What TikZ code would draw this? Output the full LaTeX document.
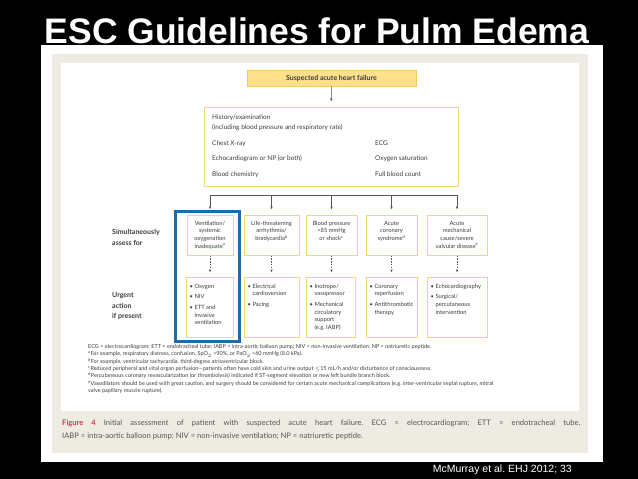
\documentclass[tikz,border=0pt]{standalone}
\usepackage{fontspec}
\setmainfont{Lato}
\newfontfamily\slidefont{Liberation Sans}
\usetikzlibrary{arrows.meta,positioning,calc}
\frenchspacing
\definecolor{slideblack}{HTML}{000000}
\definecolor{panelbeige}{HTML}{EEECE2}
\definecolor{boxyellow}{HTML}{F2D675}
\definecolor{headyellow}{HTML}{FCE08C}
\definecolor{textgray}{HTML}{3C3C3C}
\definecolor{linkgray}{HTML}{555555}
\definecolor{markblue}{HTML}{1D6CA8}
\definecolor{figred}{HTML}{D8345F}
\definecolor{capgray}{HTML}{555555}
\tikzset{
  >=Latex,
  slidetitle/.style={font=\slidefont\bfseries\fontsize{35.5}{40}\selectfont, text=white, anchor=base, inner sep=0pt},
  credit/.style={font=\slidefont\fontsize{10.5}{12}\selectfont, text=white, anchor=base east, inner sep=0pt},
  flowbox/.style={rectangle, draw=boxyellow, line width=1pt, fill=white, inner sep=0pt},
  headbox/.style={rectangle, draw=boxyellow!85!orange, fill=headyellow, line width=0.6pt,
    minimum width=169, minimum height=16, font=\fontsize{7}{8}\selectfont\bfseries, text=textgray},
  assess/.style={flowbox, minimum height=40},
  urgent/.style={flowbox, minimum height=60},
  histtext/.style={font=\fontsize{6.5}{8}\selectfont, text=textgray, anchor=base west, inner sep=0pt},
  boxtext/.style={font=\fontsize{5.8}{7.7}\selectfont, text=textgray, inner sep=0pt},
  sidelabel/.style={font=\fontsize{7}{10.5}\selectfont\bfseries, text=textgray, align=left,
    anchor=north west, inner sep=0pt},
  footnotes/.style={font=\fontsize{5.5}{7.4}\selectfont, text=textgray, align=left,
    anchor=north west, inner sep=0pt},
  caption/.style={font=\fontsize{7.6}{12.5}\selectfont, text=capgray, text width=518, align=justify,
    anchor=north west, inner sep=0pt},
  link/.style={draw=linkgray, line width=0.6pt},
  linkarrow/.style={link, -{Latex[length=3pt,width=2.6pt]}, shorten >=5pt},
  dasharrow/.style={link, -{Latex[length=3pt,width=2.6pt]}, dash pattern=on 1.4pt off 1.4pt, shorten >=4pt}
}
\newcommand{\itembul}{\textbullet\ }
\newcommand{\itempad}{\hphantom{\textbullet\ }}
\newcommand{\assesstext}[3]{
  \node[boxtext, align=center, anchor=north] (#1) at ([yshift=-6.3pt]#2.north) {#3};
}
\newcommand{\actiontext}[3]{
  \node[boxtext, align=left, anchor=north west] (#1) at ([xshift=4pt,yshift=-7.2pt]#2.north west) {#3};
}
\begin{document}
\begin{tikzpicture}[x=1pt, y=-1pt]
\useasboundingbox (0,0) rectangle (638,479);
\fill[slideblack] (0,0) rectangle (638,479);
\node[slidetitle] (title) at (317,43) {ESC Guidelines for Pulm Edema};
% figure panel
\fill[white] (41,45) rectangle (603,462);
\fill[panelbeige] (52,54) rectangle (588,453);
\fill[white] (61,63) rectangle (579,411);
% top of the chart
\node[headbox] (suspect) at (331.5,78) {Suspected acute heart failure};
\node[flowbox, minimum width=254, minimum height=79] (hist) at (331,146.5) {};
\draw[linkarrow] (suspect) -- (hist);
\node[histtext] (hist1) at (212,119.5) {History/examination};
\node[histtext] (hist2) at (212,129.5) {(including blood pressure and respiratory rate)};
\node[histtext] (hist3) at (212,145) {Chest X-ray};
\node[histtext] (hist4) at (375,145) {ECG};
\node[histtext] (hist5) at (212,160.5) {Echocardiogram or NP (or both)};
\node[histtext] (hist6) at (375,160.5) {Oxygen saturation};
\node[histtext] (hist7) at (212,176) {Blood chemistry};
\node[histtext] (hist8) at (375,176) {Full blood count};
% assessment row
\node[assess, minimum width=46] (as1) at (210,235) {};
\node[assess, minimum width=55] (as2) at (271.5,235) {};
\node[assess, minimum width=51] (as3) at (331.5,235) {};
\node[assess, minimum width=51] (as4) at (391.5,235) {};
\node[assess, minimum width=60] (as5) at (457,235) {};
\assesstext{as1t}{as1}{Ventilation/\\systemic\\oxygenation\\inadequate\textsuperscript{a}}
\assesstext{as2t}{as2}{Life-threatening\\arrhythmia/\\bradycardia\textsuperscript{b}}
\assesstext{as3t}{as3}{Blood pressure\\<85 mmHg\\or shock\textsuperscript{c}}
\assesstext{as4t}{as4}{Acute\\coronary\\syndrome\textsuperscript{d}}
\assesstext{as5t}{as5}{Acute\\mechanical\\cause/severe\\valvular disease\textsuperscript{e}}
% urgent action row
\node[urgent, minimum width=47] (ur1) at (209.5,307) {};
\node[urgent, minimum width=55] (ur2) at (271.5,307) {};
\node[urgent, minimum width=49] (ur3) at (330.5,307) {};
\node[urgent, minimum width=51] (ur4) at (391.5,307) {};
\node[urgent, minimum width=60] (ur5) at (457,307) {};
\actiontext{ur1t}{ur1}{\itembul Oxygen\\[3pt]\itembul NIV\\[3pt]\itembul ETT and\\\itempad invasive\\\itempad ventilation}
\actiontext{ur2t}{ur2}{\itembul Electrical\\\itempad cardioversion\\[3pt]\itembul Pacing}
\actiontext{ur3t}{ur3}{\itembul Inotrope/\\\itempad vasopressor\\[3pt]\itembul Mechanical\\\itempad circulatory\\\itempad support\\\itempad (e.g. IABP)}
\actiontext{ur4t}{ur4}{\itembul Coronary\\\itempad reperfusion\\[3pt]\itembul Antithrombotic\\\itempad therapy}
\actiontext{ur5t}{ur5}{\itembul Echocardiography\\[3pt]\itembul Surgical/\\\itempad percutaneous\\\itempad intervention}
% connectors
\coordinate (bar) at (0,195);
\draw[link] (as1.north |- bar) -- (as5.north |- bar);
\draw[linkarrow] (as1.north |- bar) -- (as1.north);
\draw[linkarrow] (as2.north |- bar) -- (as2.north);
\draw[linkarrow] (as3.north |- bar) -- (as3.north);
\draw[linkarrow] (as4.north |- bar) -- (as4.north);
\draw[linkarrow] (as5.north |- bar) -- (as5.north);
\draw[dasharrow] (as1.south) -- (ur1.north -| as1.south);
\draw[dasharrow] (as2) -- (ur2);
\draw[dasharrow] (as3.south) -- (ur3.north -| as3.south);
\draw[dasharrow] (as4) -- (ur4);
\draw[dasharrow] (as5) -- (ur5);
% highlight of the first column
\draw[markblue, line width=3pt] (175,211) rectangle (239,341);
% row labels
\node[sidelabel] (simul) at (112,229.5) {Simultaneously\\assess for};
\node[sidelabel] (present) at (112,292.5) {Urgent\\action\\if present};
% notes and caption
\node[footnotes] (notes) at (88,344) {ECG = electrocardiogram; ETT = endotracheal tube; IABP = intra-aortic balloon pump; NIV = non-invasive ventilation; NP = natriuretic peptide.\\
\textsuperscript{a}For example, respiratory distress, confusion, SpO$_2$ <90\%, or PaO$_2$ <60 mmHg (8.0 kPa).\\
\textsuperscript{b}For example, ventricular tachycardia, third-degree atrioventricular block.\\
\textsuperscript{c}Reduced peripheral and vital organ perfusion---patients often have cold skin and urine output $\leq$15 mL/h and/or disturbance of consciousness.\\
\textsuperscript{d}Percutaneous coronary revascularization (or thrombolysis) indicated if ST-segment elevation or new left bundle branch block.\\
\textsuperscript{e}Vasodilators should be used with great caution, and surgery should be considered for certain acute mechanical complications (e.g. inter-ventricular septal rupture, mitral\\
valve papillary muscle rupture).};
\node[caption] (figcap) at (62,420) {\textcolor{figred}{\textbf{Figure 4}} Initial assessment of patient with suspected acute heart failure. ECG = electrocardiogram; ETT = endotracheal tube,\linebreak IABP = intra-aortic balloon pump; NIV = non-invasive ventilation; NP = natriuretic peptide.};
\node[credit] (source) at (572,472) {McMurray et al. EHJ 2012; 33};
\end{tikzpicture}
\end{document}
